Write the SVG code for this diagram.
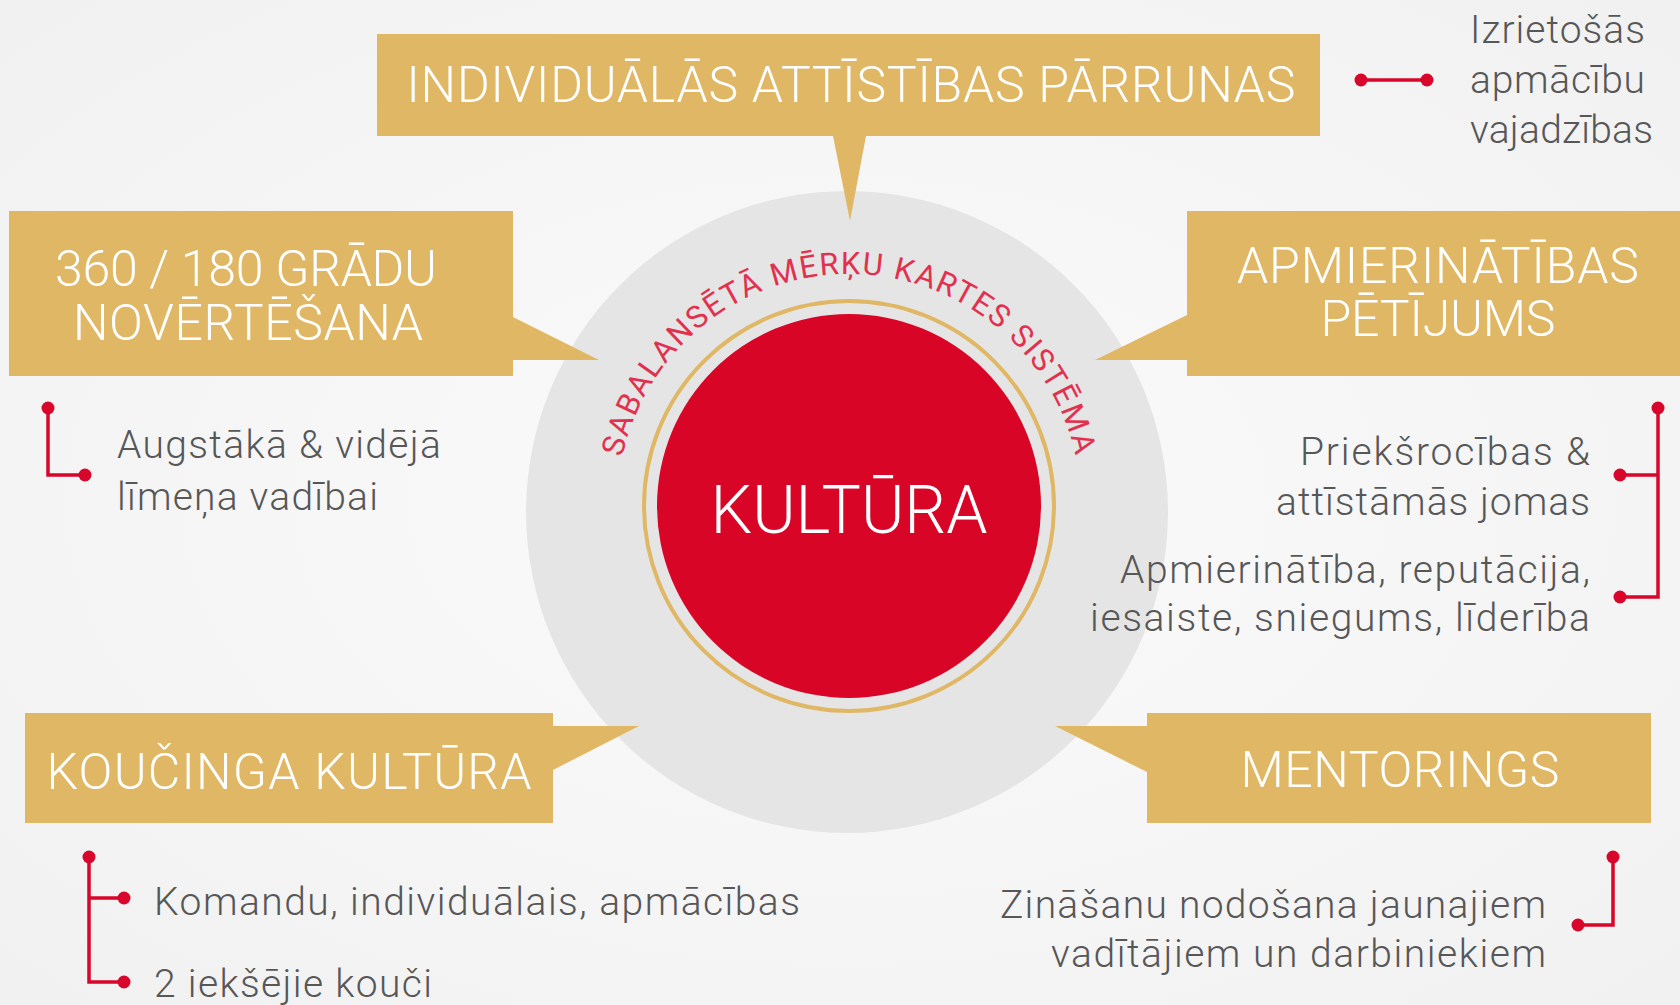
<svg xmlns="http://www.w3.org/2000/svg" width="1680" height="1005" viewBox="0 0 1680 1005">
  <defs>
    <radialGradient id="bg" cx="50%" cy="50%" r="75%">
      <stop offset="0" stop-color="#fbfbfb"/>
      <stop offset="1" stop-color="#f0f0f0"/>
    </radialGradient>
    <path id="arcPath" d="M617 506 A232 232 0 0 1 1081 506"/>
    <style>
      .box { fill: #e0b865; }
      .title { font-family: Roboto, "Liberation Sans", sans-serif; font-weight: 300; fill: #ffffff; font-size: 50px; text-anchor: middle; }
      .sub { font-family: Roboto, "Liberation Sans", sans-serif; font-weight: 300; fill: #575757; font-size: 39px; }
      .end { text-anchor: end; }
      .wire { fill: none; stroke: #d8062a; stroke-width: 3.5; }
      .dot { fill: #d8062a; }
    </style>
  </defs>

  <rect x="0" y="0" width="1680" height="1005" fill="url(#bg)"/>

  <g id="center">
    <circle cx="847" cy="512" r="321" fill="#e5e5e5"/>
    <circle cx="849" cy="506" r="205" fill="none" stroke="#e0b865" stroke-width="4"/>
    <circle cx="849" cy="506" r="192" fill="#d80527"/>
    <text x="849" y="533" font-family="Roboto, 'Liberation Sans', sans-serif" font-weight="300" font-size="66" fill="#ffffff" text-anchor="middle" textLength="277">KULTŪRA</text>
    <text font-family="Roboto, 'Liberation Sans', sans-serif" font-weight="400" font-size="31" fill="#e2314f" letter-spacing="1.6">
      <textPath href="#arcPath" startOffset="50%" text-anchor="middle">SABALANSĒTĀ MĒRĶU KARTES SISTĒMA</textPath>
    </text>
  </g>

  <g id="node-top">
    <path class="box" d="M377 34 H1320 V136 H866 L850 221 L833 136 H377 Z"/>
    <text class="title" x="851" y="102" textLength="889">INDIVIDUĀLĀS ATTĪSTĪBAS PĀRRUNAS</text>
  </g>

  <g id="node-legend">
    <text class="sub" x="1470" y="43" textLength="175">Izrietošās</text>
    <text class="sub" x="1470" y="93" textLength="175">apmācību</text>
    <text class="sub" x="1470" y="143" textLength="183">vajadzības</text>
  </g>

  <g id="node-360">
    <path class="box" d="M9 211 H513 V317 L599 360 H513 V376 H9 Z"/>
    <text class="title" x="246" y="286" textLength="382">360 / 180 GRĀDU</text>
    <text class="title" x="248" y="340" textLength="350">NOVĒRTĒŠANA</text>
    <text class="sub" x="117" y="458" textLength="324">Augstākā &amp; vidējā</text>
    <text class="sub" x="117" y="510" textLength="261">līmeņa vadībai</text>
  </g>

  <g id="node-apmierinatiba">
    <path class="box" d="M1187 211 H1680 V376 H1187 V360 H1095 L1187 315 Z"/>
    <text class="title" x="1438" y="283" textLength="402">APMIERINĀTĪBAS</text>
    <text class="title" x="1438" y="336" textLength="235">PĒTĪJUMS</text>
    <text class="sub end" x="1590" y="465" textLength="290">Priekšrocības &amp;</text>
    <text class="sub end" x="1590" y="515" textLength="314">attīstāmās jomas</text>
    <text class="sub end" x="1590" y="583" textLength="470">Apmierinātība, reputācija,</text>
    <text class="sub end" x="1590" y="631" textLength="500">iesaiste, sniegums, līderība</text>
  </g>

  <g id="node-koucinga">
    <path class="box" d="M25 713 H553 V726 H639 L553 770 V823 H25 Z"/>
    <text class="title" x="289" y="789" textLength="485">KOUČINGA KULTŪRA</text>
    <text class="sub" x="154" y="915" textLength="646">Komandu, individuālais, apmācības</text>
    <text class="sub" x="154" y="997" textLength="278">2 iekšējie kouči</text>
  </g>

  <g id="node-mentorings">
    <path class="box" d="M1147 713 H1651 V823 H1147 V772 L1055 726 H1147 Z"/>
    <text class="title" x="1400" y="787" textLength="319">MENTORINGS</text>
    <text class="sub end" x="1546" y="918" textLength="546">Zināšanu nodošana jaunajiem</text>
    <text class="sub end" x="1546" y="967" textLength="495">vadītājiem un darbiniekiem</text>
  </g>

  <g id="connectors">
    <path class="wire" d="M1361 80 H1427"/>
    <circle class="dot" cx="1361" cy="80" r="6.5"/>
    <circle class="dot" cx="1427" cy="80" r="6.5"/>

    <path class="wire" d="M48 408 V475 H85"/>
    <circle class="dot" cx="48" cy="408" r="6.5"/>
    <circle class="dot" cx="85" cy="475" r="6.5"/>

    <path class="wire" d="M1658 408 V597 H1620 M1658 475 H1620"/>
    <circle class="dot" cx="1658" cy="408" r="6.5"/>
    <circle class="dot" cx="1620" cy="475" r="6.5"/>
    <circle class="dot" cx="1620" cy="597" r="6.5"/>

    <path class="wire" d="M89 857 V982 H124 M89 898 H124"/>
    <circle class="dot" cx="89" cy="857" r="6.5"/>
    <circle class="dot" cx="124" cy="898" r="6.5"/>
    <circle class="dot" cx="124" cy="982" r="6.5"/>

    <path class="wire" d="M1613 857 V925 H1578"/>
    <circle class="dot" cx="1613" cy="857" r="6.5"/>
    <circle class="dot" cx="1578" cy="925" r="6.5"/>
  </g>
</svg>
